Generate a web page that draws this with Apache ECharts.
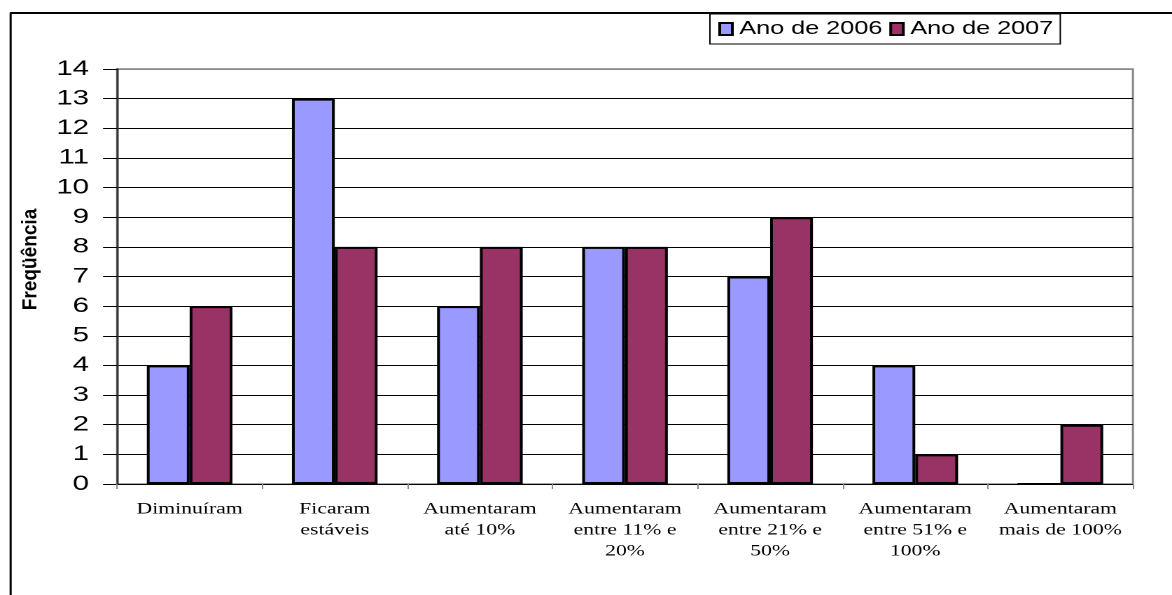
<!DOCTYPE html>
<html>
<head>
<meta charset="utf-8">
<script src="https://cdn.jsdelivr.net/npm/echarts@6/dist/echarts.min.js"></script>
<style>
  html, body { margin: 0; padding: 0; background: #fff; overflow: hidden; }
  #wrap { width: 1172px; height: 595px; overflow: hidden; }
  /* the chart is laid out narrow and widened, giving the broad lettering of the sheet */
  #chart { width: 837px; height: 595px; transform: scaleX(1.40024); transform-origin: 0 0; }
</style>
</head>
<body>
<div id="wrap"><div id="chart"></div></div>
<script>
// Categories (line breaks follow the printed wrapping)
const categories = [
  'Diminuíram',
  'Ficaram\nestáveis',
  'Aumentaram\naté 10%',
  'Aumentaram\nentre 11% e\n20%',
  'Aumentaram\nentre 21% e\n50%',
  'Aumentaram\nentre 51% e\n100%',
  'Aumentaram\nmais de 100%'
];
const seriesNames = ['Ano de 2006', 'Ano de 2007'];
const values2006 = [4, 13, 6, 8, 7, 4, 0];
const values2007 = [6, 8, 8, 8, 9, 1, 2];
const yAxisTitle = 'Freqüência';

const SANS = '"Liberation Sans", Arial, sans-serif';
const SERIF = '"Liberation Serif", "Times New Roman", serif';

const chart = echarts.init(document.getElementById('chart'), null, { renderer: 'canvas', devicePixelRatio: 2 });

// value gridlines: black, except the top one which lies on the grey plot frame
const splitColors = [];
for (let i = 0; i <= 14; i++) splitColors.push(i === 14 ? '#888888' : '#000000');

chart.setOption({
  backgroundColor: '#ffffff',
  animation: false,
  textStyle: { fontFamily: SANS },
  legend: {
    data: seriesNames,
    left: 507,
    top: 14,
    padding: [6, 5, 6, 6],
    itemGap: 5,
    itemWidth: 9,
    itemHeight: 12,
    borderColor: '#000000',
    borderWidth: 1,
    textStyle: { fontFamily: SANS, fontSize: 18, color: '#000' },
    icon: 'rect'
  },
  grid: {
    left: 83.6,
    right: 27.9,
    top: 69,
    bottom: 111,
    show: true,
    borderColor: '#888888',
    borderWidth: 1.5,
    backgroundColor: 'transparent'
  },
  xAxis: {
    type: 'category',
    data: categories,
    axisLine: { lineStyle: { color: '#000', width: 1 } },
    axisTick: { show: true, length: 5, lineStyle: { color: '#888' } },
    axisLabel: {
      interval: 0,
      margin: 15,
      fontFamily: SERIF,
      fontSize: 15.5,
      lineHeight: 21,
      color: '#000'
    },
    splitLine: { show: false }
  },
  yAxis: {
    type: 'value',
    min: 0,
    max: 14,
    interval: 1,
    axisLine: { show: true, lineStyle: { color: '#333', width: 1.5 } },
    axisTick: { show: true, inside: false, length: 10, lineStyle: { color: '#000' } },
    axisLabel: {
      margin: 20,
      fontFamily: SANS,
      fontSize: 21,
      color: '#000'
    },
    splitLine: { show: true, lineStyle: { color: splitColors, width: 1 } }
  },
  series: [
    {
      name: seriesNames[0],
      type: 'bar',
      data: values2006,
      barGap: '0%',
      barCategoryGap: '41%',
      itemStyle: { color: '#9999FF', borderColor: '#000', borderWidth: 2 }
    },
    {
      name: seriesNames[1],
      type: 'bar',
      data: values2007,
      barGap: '0%',
      barCategoryGap: '41%',
      itemStyle: { color: '#993366', borderColor: '#000', borderWidth: 2 }
    }
  ],
  graphic: [
    // sheet frame: top and left edges
    { type: 'line', shape: { x1: 7.1, y1: 13, x2: 900, y2: 13 }, style: { stroke: '#000', lineWidth: 2 } },
    { type: 'line', shape: { x1: 7.6, y1: 13, x2: 7.6, y2: 700 }, style: { stroke: '#000', lineWidth: 1.5 } },
    // value axis title
    {
      type: 'text',
      x: 21.8,
      y: 259.5,
      rotation: Math.PI / 2,
      scaleX: 1.36,
      scaleY: 1.05,
      style: {
        text: yAxisTitle,
        fontFamily: SANS,
        fontWeight: 'bold',
        fontSize: 14,
        fill: '#000',
        align: 'center',
        verticalAlign: 'middle'
      }
    }
  ]
});
</script>
</body>
</html>
